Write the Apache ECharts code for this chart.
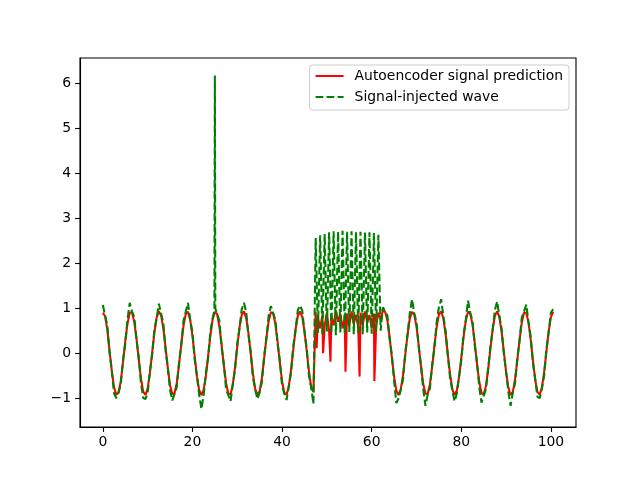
<!DOCTYPE html>
<html>
<head>
<meta charset="utf-8">
<script src="https://cdn.jsdelivr.net/npm/echarts@6/dist/echarts.min.js"></script>
<style>html,body{margin:0;padding:0;background:#fff}#c{width:640px;height:480px}</style>
</head>
<body>
<div id="c"></div>
<script>
// sample spacing of both series along x
const xStep = 0.5;

// Signal-injected wave (green dashed), x = 0, 0.5, ..., 100.5
const waveY = [
  1.07, 0.84, 0.62, 0.01, -0.39, -0.89, -1.00, -0.87, -0.70, -0.15,
  0.20, 0.75, 1.12, 0.93, 0.81, 0.32, -0.08, -0.66, -0.99, -1.02,
  -0.89, -0.39, -0.04, 0.53, 0.77, 1.10, 0.88, 0.67, 0.05, -0.32,
  -0.82, -1.05, -0.91, -0.75, -0.21, 0.17, 0.72, 0.92, 1.12, 0.74,
  0.46, -0.15, -0.51, -0.93, -1.24, -0.93, -0.45, -0.10, 0.48, 0.78,
  6.17, 0.88, 0.72, 0.14, -0.24, -0.80, -0.93, -1.07, -0.69, -0.38,
  0.22, 0.56, 0.98, 1.12, 0.91, 0.40, 0.04, -0.55, -0.81, -1.02,
  -0.87, -0.64, -0.05, 0.32, 0.83, 1.05, 0.89, 0.75, 0.21, -0.16,
  -0.72, -0.90, -1.04, -0.73, -0.44, 0.16, 0.51, 0.95, 1.06, 0.95,
  0.47, 0.10, -0.50, -0.77, -1.13, 2.56, 0.45, 2.62, 0.42, 2.65,
  0.48, 2.69, 0.44, 2.71, 0.40, 2.70, 0.46, 2.72, 0.43, 2.70,
  0.47, 2.71, 0.42, 2.69, 0.45, 2.70, 0.41, 2.68, 0.46, 2.69,
  0.43, 2.67, 0.47, 2.63, 0.50, 1.02, 0.93, 0.84, 0.32, -0.04,
  -0.61, -1.11, -1.00, -0.81, -0.58, 0.03, 0.40, 0.88, 1.20, 0.88,
  0.70, 0.13, -0.27, -0.80, -1.17, -0.92, -0.78, -0.26, 0.12, 0.69,
  1.02, 1.20, 0.82, 0.50, -0.06, -0.55, -0.83, -1.07, -0.90, -0.52,
  -0.16, 0.42, 0.73, 1.17, 0.90, 0.72, 0.18, -0.20, -0.74, -1.10,
  -0.95, -0.80, -0.33, 0.15, 0.52, 0.96, 1.15, 0.82, 0.55, -0.02,
  -0.41, -0.86, -1.17, -0.88, -0.66, -0.12, 0.27, 0.79, 0.93, 1.08,
  0.69, 0.36, -0.23, -0.58, -0.97, -1.00, -0.78, -0.49, 0.09, 0.47,
  0.90, 0.98
];
// extra green samples beside the spike
const waveExtraX = [24.9, 25.1];
const waveExtraY = [0.96, 0.99];

// Autoencoder signal prediction (red), x = 0, 0.5, ..., 100.5
const predY = [
  0.90, 0.82, 0.52, 0.05, -0.40, -0.76, -0.92, -0.88, -0.62, -0.20,
  0.27, 0.66, 0.90, 0.91, 0.70, 0.33, -0.13, -0.56, -0.85, -0.93,
  -0.78, -0.45, 0.01, 0.45, 0.79, 0.93, 0.84, 0.55, 0.13, -0.33,
  -0.71, -0.91, -0.89, -0.66, -0.26, 0.20, 0.61, 0.87, 0.92, 0.74,
  0.38, -0.07, -0.51, -0.82, -0.93, -0.81, -0.50, -0.06, 0.39, 0.75,
  0.92, 0.87, 0.60, 0.19, -0.27, -0.66, -0.90, -0.91, -0.70, -0.31,
  0.14, 0.57, 0.85, 0.93, 0.78, 0.44, -0.01, -0.46, -0.79, -0.93,
  -0.84, -0.55, -0.12, 0.34, 0.71, 0.91, 0.89, 0.65, 0.25, -0.21,
  -0.62, -0.88, -0.92, -0.74, -0.37, 0.08, 0.52, 0.82, 0.93, 0.81,
  0.49, 0.05, -0.40, -0.76, -0.86, 0.92, 0.80, 0.55, 0.85, 0.60,
  0.90, 0.50, 0.82, 0.62, 0.95, 0.70, 0.88, 0.55, 0.80, 0.88,
  0.60, 0.93, 0.65, 0.85, 0.58, 0.90, 0.62, 0.93, 0.68, 0.85,
  0.55, 0.88, 0.62, 0.90, 0.75, 0.95, 0.92, 0.73, 0.36, -0.09,
  -0.52, -0.83, -0.93, -0.80, -0.48, -0.04, 0.41, 0.76, 0.92, 0.86,
  0.59, 0.17, -0.29, -0.68, -0.90, -0.90, -0.69, -0.30, 0.16, 0.58,
  0.86, 0.93, 0.77, 0.42, -0.03, -0.47, -0.80, -0.93, -0.83, -0.53,
  -0.10, 0.35, 0.72, 0.92, 0.88, 0.64, 0.23, -0.23, -0.63, -0.88,
  -0.92, -0.73, -0.36, 0.10, 0.53, 0.83, 0.93, 0.80, 0.47, 0.03,
  -0.42, -0.76, -0.93, -0.86, -0.58, -0.16, 0.29, 0.68, 0.90, 0.90,
  0.68, 0.29, -0.17, -0.59, -0.86, -0.92, -0.76, -0.41, 0.04, 0.48,
  0.80, 0.92
];
// narrow dips of the prediction inside the injected region (two samples at each bottom)
const dipX = [47.7, 47.82, 49.15, 49.27, 50.8, 50.92, 54.15, 54.27, 57.3, 57.42, 60.6, 60.72];
const dipY = [0.11, 0.12, 0.0, 0.01, -0.19, -0.18, -0.41, -0.40, -0.52, -0.51, -0.62, -0.61];

const xTicks = [0, 20, 40, 60, 80, 100];
const yTicks = [-1, 0, 1, 2, 3, 4, 5, 6];
const seriesNames = ['Autoencoder signal prediction', 'Signal-injected wave'];

function buildPairs(gridY, exX, exY) {
  const pts = gridY.map((v, i) => [i * xStep, v]);
  exX.forEach((x, i) => pts.push([x, exY[i]]));
  pts.sort((a, b) => a[0] - b[0]);
  return pts;
}

const font = 'DejaVu Sans';
const chart = echarts.init(document.getElementById('c'), null, {renderer: 'canvas'});
chart.setOption({
  animation: false,
  backgroundColor: '#fff',
  grid: {left: 80, right: 64, top: 58, bottom: 53, show: true, borderColor: '#000', borderWidth: 1.1, backgroundColor: 'transparent'},
  legend: {
    data: seriesNames,
    orient: 'vertical',
    right: 71, top: 65,
    itemWidth: 28, itemHeight: 14, itemGap: 7,
    padding: [4, 6, 6, 5],
    backgroundColor: 'rgba(255,255,255,0.8)',
    borderColor: '#cccccc', borderWidth: 1, borderRadius: 3,
    itemStyle: {color: 'rgba(0,0,0,0)', borderWidth: 0, opacity: 0},
    textStyle: {fontFamily: font, fontSize: 13.9, color: '#000', padding: [0, 0, 0, 6], lineHeight: 14}
  },
  xAxis: {
    type: 'value', min: -5.1, max: 105.6,
    splitLine: {show: false},
    axisLine: {onZero: false, lineStyle: {color: '#000', width: 1.1}},
    axisTick: {customValues: xTicks, length: 4.9, lineStyle: {color: '#000', width: 1.1}},
    axisLabel: {customValues: xTicks, margin: 8, fontFamily: font, fontSize: 13.9, color: '#000'}
  },
  yAxis: {
    type: 'value', min: -1.64, max: 6.56,
    splitLine: {show: false},
    axisLine: {show: true, onZero: false, lineStyle: {color: '#000', width: 1.1}},
    axisTick: {show: true, customValues: yTicks, length: 4.9, lineStyle: {color: '#000', width: 1.1}},
    axisLabel: {customValues: yTicks, margin: 9, fontFamily: font, fontSize: 13.9, color: '#000',
      formatter: v => String(v).replace('-', '\u2212')}
  },
  series: [
    {
      name: seriesNames[0], type: 'line', symbol: 'none', showSymbol: false,
      data: buildPairs(predY, dipX, dipY),
      lineStyle: {color: '#ff0000', width: 2.08},
      itemStyle: {color: '#ff0000'}
    },
    {
      name: seriesNames[1], type: 'line', symbol: 'none', showSymbol: false,
      data: buildPairs(waveY, waveExtraX, waveExtraY),
      lineStyle: {color: '#008000', width: 2.08, type: [7.7, 3.3]},
      itemStyle: {color: '#008000'}
    }
  ]
});
</script>
</body>
</html>
